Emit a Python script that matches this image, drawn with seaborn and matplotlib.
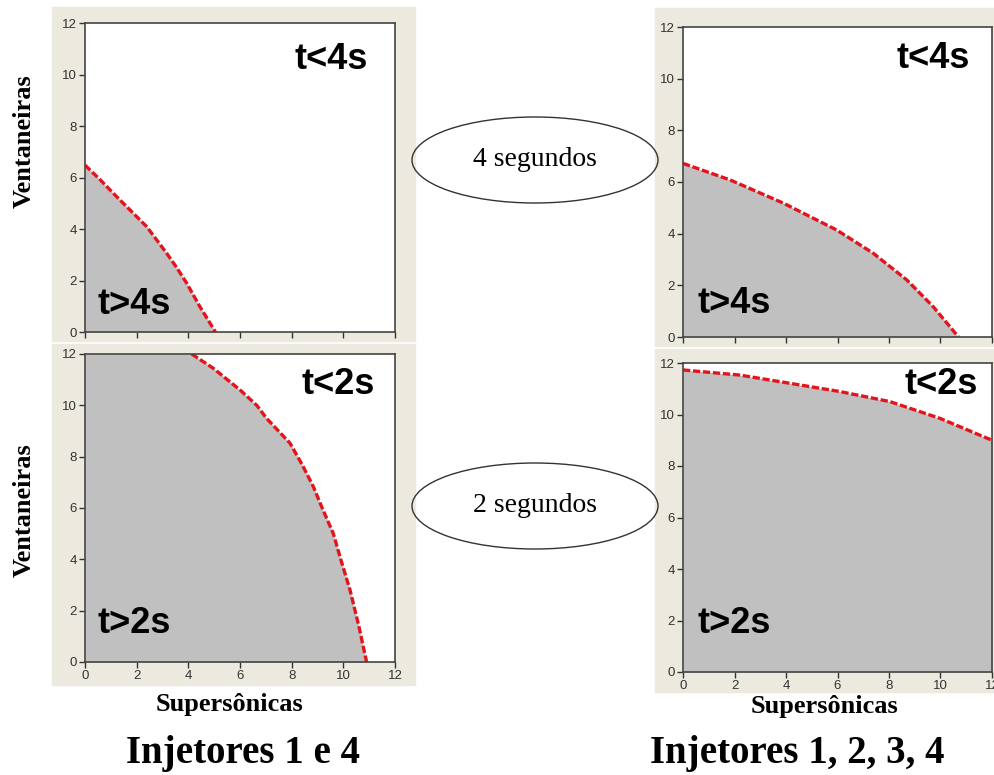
import numpy as np
import pandas as pd
import matplotlib
matplotlib.use("Agg")
import matplotlib.pyplot as plt
from matplotlib.patches import Rectangle, Ellipse
import seaborn as sns

# ── Data ─────────────────────────────────────────────────────────────────────
# top-left: injetores 1 e 4, limite de 4 s
tl_x = [0.0, 0.6, 1.23, 1.87, 2.39, 3.16, 3.55, 3.94, 4.45, 5.05]
tl_y = [6.48, 5.9, 5.25, 4.61, 4.09, 3.06, 2.5, 1.89, 0.98, 0.0]
# top-right: injetores 1-4, limite de 4 s
tr_x = [0.0, 1.83, 3.9, 5.97, 7.39, 8.69, 9.72, 10.7]
tr_y = [6.72, 6.08, 5.18, 4.14, 3.24, 2.21, 1.17, 0.0]
# bottom-left: injetores 1 e 4, limite de 2 s
bl_x = [4.13, 4.97, 6.0, 6.65, 7.03, 7.94, 8.4, 8.84, 9.16, 9.61, 9.9, 10.26, 10.6, 10.9]
bl_y = [12.0, 11.44, 10.6, 10.0, 9.49, 8.52, 7.7, 6.83, 6.05, 5.01, 4.0, 2.8, 1.4, 0.0]
# bottom-right: injetores 1-4, limite de 2 s
br_x = [0.0, 2.21, 4.16, 6.1, 8.04, 9.98, 12.0]
br_y = [11.73, 11.53, 11.21, 10.89, 10.5, 9.85, 9.0]

ticks = [0, 2, 4, 6, 8, 10, 12]
hi_labels = ["t<4s", "t<4s", "t<2s", "t<2s"]
lo_labels = ["t>4s", "t>4s", "t>2s", "t>2s"]
ellipse_text = ["4 segundos", "2 segundos"]
titles = ["Injetores 1 e 4", "Injetores 1, 2, 3, 4"]
xlabel = "Supersônicas"
ylabel = "Ventaneiras"

BEIGE = "#ece9df"
GRAY = "#c0c0c0"
RED = "#e3141c"

sns.set_theme(style="ticks")
plt.rcParams["font.family"] = ["Liberation Sans", "DejaVu Sans"]
plt.rcParams["text.color"] = "black"

fig = plt.figure(figsize=(9.95, 7.75), dpi=100)
W, H = 995.0, 775.0

def fx(px):
    return px / W

def fy(py):
    return 1 - py / H

# beige frames behind the plots
for x0, x1, y0, y1 in [(52, 415, 7, 341), (52, 415, 344, 685),
                       (655, 995, 8, 346), (655, 995, 349, 692)]:
    fig.patches.append(Rectangle((fx(x0), fy(y1)), fx(x1 - x0), (y1 - y0) / H,
                                 transform=fig.transFigure, color=BEIGE, zorder=-5))

# axes boxes in pixels: left, right, top(y=12), bottom(y=0)
boxes = [(85, 395, 23, 332), (683, 992, 27, 337),
         (85, 395, 354, 662), (683, 992, 363, 672)]
curves = [(tl_x, tl_y), (tr_x, tr_y), (bl_x, bl_y), (br_x, br_y)]
hi_pos = [(8.1, 10.6), (8.3, 10.8), (8.4, 10.8), (8.6, 11.15)]
lo_pos = [(0.5, 1.05), (0.55, 1.3), (0.5, 1.5), (0.55, 1.9)]

for i, ((l, r, t, b), (cx, cy)) in enumerate(zip(boxes, curves)):
    ax = fig.add_axes([fx(l), fy(b), (r - l) / W, (b - t) / H])
    ax.set_zorder(1)
    ax.set_facecolor("white")
    # shaded region t > limit
    fx_ = list(cx)
    fy_ = list(cy)
    if fx_[0] > 0:
        fx_ = [0.0] + fx_
        fy_ = [12.0] + fy_
    ax.fill_between(fx_, 0, fy_, color=GRAY, lw=0, zorder=1)
    df = pd.DataFrame({"x": cx, "y": cy})
    sns.lineplot(data=df, x="x", y="y", ax=ax, color=RED, lw=2.4,
                 sort=False, zorder=3)
    ax.lines[-1].set_dashes([2.2, 0.8])
    ax.set_xlim(0, 12)
    ax.set_ylim(0, 12)
    ax.set_xticks(ticks)
    ax.set_yticks(ticks)
    ax.set_xlabel("")
    ax.set_ylabel("")
    ax.tick_params(direction="out", length=4, width=1, colors="#333333",
                   labelsize=9.5, pad=2)
    if i < 2:
        ax.set_xticklabels([])
    for s in ax.spines.values():
        s.set_color("#444444")
        s.set_linewidth(1.2)
        s.set_zorder(5)
    ax.text(*hi_pos[i], hi_labels[i], fontsize=26, fontweight="bold",
            color="black", va="center", ha="left")
    ax.text(*lo_pos[i], lo_labels[i], fontsize=26, fontweight="bold",
            color="black", va="center", ha="left")

serif = ["Liberation Serif", "DejaVu Serif"]

# ellipses in the middle column
for cyp, txt in zip([160, 506], ellipse_text):
    fig.patches.append(Ellipse((fx(535), fy(cyp)), 246 / W, 86 / H,
                               transform=fig.transFigure, fill=False,
                               ec="#333333", lw=1.0, zorder=2))
    fig.text(fx(535), fy(cyp), txt, family=serif, fontsize=20,
             ha="center", va="center")

# y labels
for cyp in [141, 510]:
    fig.text(fx(24), fy(cyp), ylabel, family=serif, fontsize=19,
             fontweight="bold", rotation=90, ha="center", va="center")

# x labels
for cxp, cyp in [(230, 705), (825, 707)]:
    fig.text(fx(cxp), fy(cyp), xlabel, family=serif, fontsize=19,
             fontweight="bold", ha="center", va="center")

# titles
for cxp, txt in zip([243, 797], titles):
    fig.text(fx(cxp), fy(754), txt, family=serif, fontsize=28,
             fontweight="bold", ha="center", va="center")

fig.savefig("out.png", dpi=100)
